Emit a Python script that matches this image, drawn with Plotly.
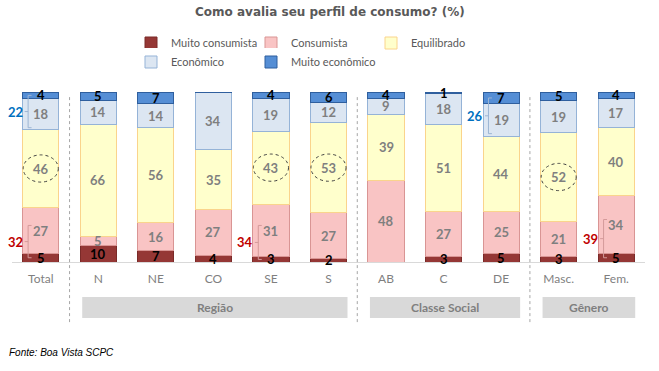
import plotly.graph_objects as go

categories = ["Total", "N", "NE", "CO", "SE", "S", "AB", "C", "DE", "Masc.", "Fem."]
muito_consumista = [5, 10, 7, 4, 3, 2, 0, 3, 5, 3, 5]
consumista = [27, 5, 16, 27, 31, 27, 48, 27, 25, 21, 34]
equilibrado = [46, 66, 56, 35, 43, 53, 39, 51, 44, 52, 40]
economico = [18, 14, 14, 34, 19, 12, 9, 18, 19, 19, 17]
muito_economico = [4, 5, 7, 0, 4, 6, 4, 1, 7, 5, 4]

series_names = ["Muito consumista", "Consumista", "Equilibrado", "Econômico", "Muito econômico"]
series_vals = [muito_consumista, consumista, equilibrado, economico, muito_economico]
fill_colors = ["#953735", "#F9C4C4", "#FFFFCC", "#DCE6F2", "#558ED5"]
line_colors = ["#7A2A28", "#D99594", "#FAD48C", "#95B3D7", "#2F5F9E"]
label_colors = ["#000000", "#7F7F7F", "#7F7F7F", "#7F7F7F", "#000000"]
legend_ids = ["legend", "legend", "legend", "legend2", "legend3"]

groups = [("Região", 1, 5), ("Classe Social", 6, 8), ("Gênero", 9, 10)]
separators = [0.5, 5.5, 8.5]
circled = [0, 4, 5, 9]  # categories whose "Equilibrado" label is circled
# brackets: (category index, lower series, upper series, colour)
brackets = [(0, 3, 4, "#0070C0"), (0, 0, 1, "#C00000"), (4, 0, 1, "#C00000"),
            (8, 3, 4, "#0070C0"), (10, 0, 1, "#C00000")]

GRAY = "#7F7F7F"
x = list(range(len(categories)))

fig = go.Figure()
for i, (name, vals) in enumerate(zip(series_names, series_vals)):
    fig.add_trace(go.Bar(
        x=x, y=vals, name=name, width=0.63,
        marker=dict(color=fill_colors[i], line=dict(color=line_colors[i], width=1)),
        legend=legend_ids[i],
        hoverinfo="skip",
    ))

annotations = []
shapes = []
# data labels at segment centres
centres = []
base = [0] * len(categories)
for i, vals in enumerate(series_vals):
    c = []
    for j, v in enumerate(vals):
        yc = base[j] + v / 2
        c.append(yc)
        if v > 0:
            annotations.append(dict(x=j, y=yc, text=f"<b>{v}</b>", showarrow=False,
                                    yanchor="middle",
                                    font=dict(size=13, color=label_colors[i], family="Lato")))
        base[j] += v
    centres.append(c)

# dashed circles around Equilibrado labels
for j in circled:
    yc = centres[2][j]
    shapes.append(dict(type="circle", xref="x", yref="y", x0=j - 0.305, x1=j + 0.305,
                       y0=yc - 8, y1=yc + 8, line=dict(color="#404040", width=1, dash="dot")))

# brackets
for j, lo, hi, col in brackets:
    if lo == 3:
        y_top = centres[hi][j]
        y_bot = centres[lo][j] - 8
    else:
        y_bot = centres[lo][j]
        y_top = centres[hi][j] + 3
    xv = j - 0.22
    lc = "#9DB5D3" if col == "#0070C0" else "#D49A9A"
    ln = dict(color=lc, width=1)
    shapes.append(dict(type="line", xref="x", yref="y", x0=xv, x1=xv, y0=y_bot, y1=y_top, line=ln))
    shapes.append(dict(type="line", xref="x", yref="y", x0=xv, x1=xv + 0.06, y0=y_top, y1=y_top, line=ln))
    shapes.append(dict(type="line", xref="x", yref="y", x0=xv, x1=xv + 0.06, y0=y_bot, y1=y_bot, line=ln))
    ym = (y_top + y_bot) / 2
    shapes.append(dict(type="line", xref="x", yref="y", x0=xv - 0.06, x1=xv, y0=ym, y1=ym, line=ln))
    total = series_vals[lo][j] + series_vals[hi][j]
    annotations.append(dict(x=j - 0.28, y=ym, text=f"<b>{total}</b>", showarrow=False,
                            xanchor="right", yanchor="middle",
                            font=dict(size=13, color=col, family="Lato")))

# separators
for sx in separators:
    shapes.append(dict(type="line", xref="x", yref="paper", x0=sx, x1=sx, y0=0.97, y1=-0.37,
                       line=dict(color="#A6A6A6", width=1, dash="dot")))

# group boxes
for gname, a, b in groups:
    shapes.append(dict(type="rect", xref="x", yref="paper", x0=a - 0.28, x1=b + 0.33,
                       y0=-0.329, y1=-0.206, fillcolor="#D9D9D9", line=dict(width=0), layer="below"))
    annotations.append(dict(x=(a - 0.28 + b + 0.33) / 2, y=-0.268, xref="x", yref="paper",
                            text=f"<b>{gname}</b>", showarrow=False, yanchor="middle",
                            font=dict(size=12, color=GRAY, family="Lato")))

# title and source
annotations.append(dict(xref="paper", yref="paper", x=(330 - 12) / 633, y=(262 - 12) / 170,
                        text="<b>Como avalia seu perfil de consumo? (%)</b>", showarrow=False,
                        yanchor="middle",
                        font=dict(size=12, color="#595959", family="DejaVu Sans")))
annotations.append(dict(x=(7 - 12) / 633, y=(262 - 352) / 170, xref="paper", yref="paper",
                        xanchor="left", yanchor="middle", text="<i>Fonte: Boa Vista SCPC</i>",
                        showarrow=False,
                        font=dict(size=10, color="#000000", family="Liberation Sans")))

legend_common = dict(orientation="h", xref="container", yref="container",
                     xanchor="left", yanchor="middle",
                     font=dict(size=11, color="#595959", family="Lato"), traceorder="normal",
                     itemclick=False, itemdoubleclick=False)

fig.update_layout(
    width=659, height=371,
    margin=dict(l=12, r=14, t=92, b=109, autoexpand=False),
    paper_bgcolor="white", plot_bgcolor="white",
    barmode="stack",
    showlegend=True,
    legend=dict(legend_common, x=131 / 659, y=1 - 43 / 371, entrywidth=75, entrywidthmode="pixels"),
    legend2=dict(legend_common, x=131 / 659, y=1 - 62 / 371),
    legend3=dict(legend_common, x=251 / 659, y=1 - 62 / 371),
    xaxis=dict(range=[-0.5, 10.5], tickvals=x, ticktext=categories, showgrid=False,
               zeroline=False, showline=True, linecolor="#D9D9D9", linewidth=1, ticks="",
               ticklabelstandoff=6,
               tickfont=dict(size=12, color=GRAY, family="Lato"), fixedrange=True),
    yaxis=dict(range=[0, 100], showgrid=False, zeroline=False, showticklabels=False,
               showline=False, fixedrange=True),
    annotations=annotations,
    shapes=shapes,
)

fig.write_html("out.html", config={"displayModeBar": False},
               post_script="document.body.style.margin='0';")
